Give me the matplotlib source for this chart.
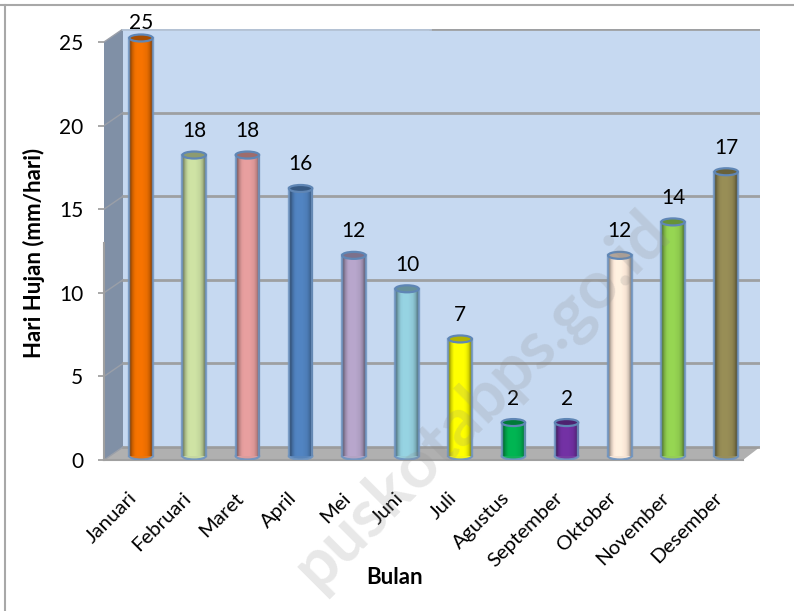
import numpy as np
import matplotlib
matplotlib.use("Agg")
import matplotlib.pyplot as plt
from matplotlib.colors import to_rgb
from matplotlib.patches import Ellipse, Polygon
from matplotlib.transforms import ScaledTranslation

plt.rcParams['font.family'] = ['Lato', 'DejaVu Sans']

months = ["Januari", "Februari", "Maret", "April", "Mei", "Juni", "Juli",
          "Agustus", "September", "Oktober", "November", "Desember"]
hari_hujan = [25, 18, 18, 16, 12, 10, 7, 2, 2, 12, 14, 17]
colors = ["#F07000", "#C9DDA0", "#E29B9B", "#4F81BD", "#B3A2C7", "#92CDDC",
          "#FFFF00", "#00B050", "#7030A0", "#FDEADA", "#92D050", "#948A54"]
y_ticks = [0, 5, 10, 15, 20, 25]

W, H = 794, 611
# chart box in pixels
LEFT, RIGHT, TOP, BOTTOM = 104, 760, 29, 460
PX_UNIT = 16.72
BAR_BASE = 456
# the 3d planes in data units: bars stand between wall and front edge
FRONT = -(BOTTOM - BAR_BASE) / PX_UNIT
BACK = (BAR_BASE - 447) / PX_UNIT
STEP = 53.2
X0 = 141


def shade(color):
    # cylinder look, dark at the edges and light in the middle
    c = np.array(to_rgb(color))
    t = np.array([0.6, 0.85, 1.0, 1.03, 1.03, 1.03, 1.0, 0.97, 0.85, 0.6])
    return np.clip(c[None, None, :] * t[None, :, None], 0, 1)


fig = plt.figure(figsize=(W / 100, H / 100), dpi=100)
ax = fig.add_axes([LEFT / W, 1 - BOTTOM / H, (RIGHT - LEFT) / W, (BOTTOM - TOP) / H])
xlim = ((LEFT - X0) / STEP, (RIGHT - X0) / STEP)
ylim = (FRONT, (BAR_BASE - TOP) / PX_UNIT)
dx = 19 / STEP
mid = (430 - X0) / STEP

# back wall, floor, side wall
ax.add_patch(Polygon([(xlim[0] + dx, BACK), (xlim[1], BACK), (xlim[1], ylim[1]), (xlim[0] + dx, ylim[1])],
                     fc="#C6D9F1", ec="none", zorder=0))
ax.add_patch(Polygon([(xlim[0], FRONT), (xlim[0] + dx, BACK), (xlim[1], BACK), (xlim[1] - 17 / STEP, FRONT)],
                     fc="#B0B0B0", ec="none", zorder=1))
ax.add_patch(Polygon([(xlim[0], FRONT), (xlim[0] + dx, BACK), (xlim[0] + dx, 25 + BACK), (xlim[0], 25 + FRONT)],
                     fc="#8090A6", ec="none", zorder=1))
for v in y_ticks:
    x_start = mid if v == 25 else xlim[0] + dx
    ax.plot([x_start, xlim[1]], [v + BACK, v + BACK], color="#9A9A9A", lw=2.0, alpha=0.9, zorder=1.5)
    ax.plot([xlim[0], xlim[0] + dx], [v + FRONT, v + BACK], color="#9A9FA8", lw=1.0, zorder=1.5)
ax.plot([xlim[0] + dx, mid], [25 + BACK, 25 + BACK], color="#B4C2D4", lw=2.0, zorder=1.5)
ax.plot([xlim[0], xlim[1] - 17 / STEP], [FRONT, FRONT], color="#A0A0A0", lw=1.5, zorder=1.5, clip_on=False)

# bars
width = 0.44
edge = "#6F94C0"
for i, (v, col) in enumerate(zip(hari_hujan, colors)):
    ax.imshow(shade(col), extent=(i - width / 2, i + width / 2, 0, v), aspect="auto",
              interpolation="bilinear", zorder=3)
    ax.add_patch(Ellipse((i, 0), width, 7 / PX_UNIT, fc=col, ec=edge, lw=1.6, alpha=0.9, zorder=2.9))
    ax.plot([i - width / 2, i - width / 2], [0, v], color=edge, lw=1.7, alpha=0.85, zorder=3.1)
    ax.plot([i + width / 2, i + width / 2], [0, v], color=edge, lw=1.7, alpha=0.85, zorder=3.1)
    ax.add_patch(Ellipse((i, v), width, 7 / PX_UNIT, fc=np.array(to_rgb(col)) * 0.7, ec="#5F86B5", lw=1.6, zorder=3.2))
    label_y = min(v + 24 / PX_UNIT, 25.9)
    ax.text(i, label_y, str(v), ha="center", va="center", fontsize=15, color="black", zorder=5, clip_on=False)

ax.set_xlim(xlim)
ax.set_ylim(ylim)
for name in ["top", "right", "bottom"]:
    ax.spines[name].set_visible(False)
ax.spines["left"].set_color("#A0A0A0")
ax.spines["left"].set_linewidth(1.5)
ax.spines["left"].set_bounds(FRONT, (BAR_BASE - 243) / PX_UNIT)
ax.set_yticks([v + FRONT for v in y_ticks], [str(v) for v in y_ticks], fontsize=15)
ax.tick_params(axis="y", length=4, width=1.2, color="#9A9A9A", pad=11)
ax.set_xticks(range(len(months)), months, rotation=45, ha="right", rotation_mode="anchor", fontsize=14.7)
ax.tick_params(axis="x", length=0, pad=21)
shift = ScaledTranslation(-9 / 72, 0, fig.dpi_scale_trans)
for lab in ax.get_xticklabels():
    lab.set_transform(lab.get_transform() + shift)

fig.text(34 / W, 1 - 253 / H, "Hari Hujan (mm/hari)", rotation=90, ha="center", va="center",
         fontsize=16, fontweight="bold")
fig.text(395 / W, 1 - 577 / H, "Bulan", ha="center", va="center", fontsize=16, fontweight="bold")

# watermark
fig.text(482 / W, 1 - 400 / H, "puskotabps.go.id", rotation=45, ha="center", va="center",
         fontsize=48, fontweight="bold", color="#8A8A8A", alpha=0.2, zorder=10)

# picture frame
fig.add_artist(plt.Line2D([0, 1], [1 - 5 / H, 1 - 5 / H], color="#A8A8A8", lw=1.5))
fig.add_artist(plt.Line2D([5 / W, 5 / W], [0, 1 - 5 / H], color="#A8A8A8", lw=1.5))

fig.savefig("out.png", dpi=100)
